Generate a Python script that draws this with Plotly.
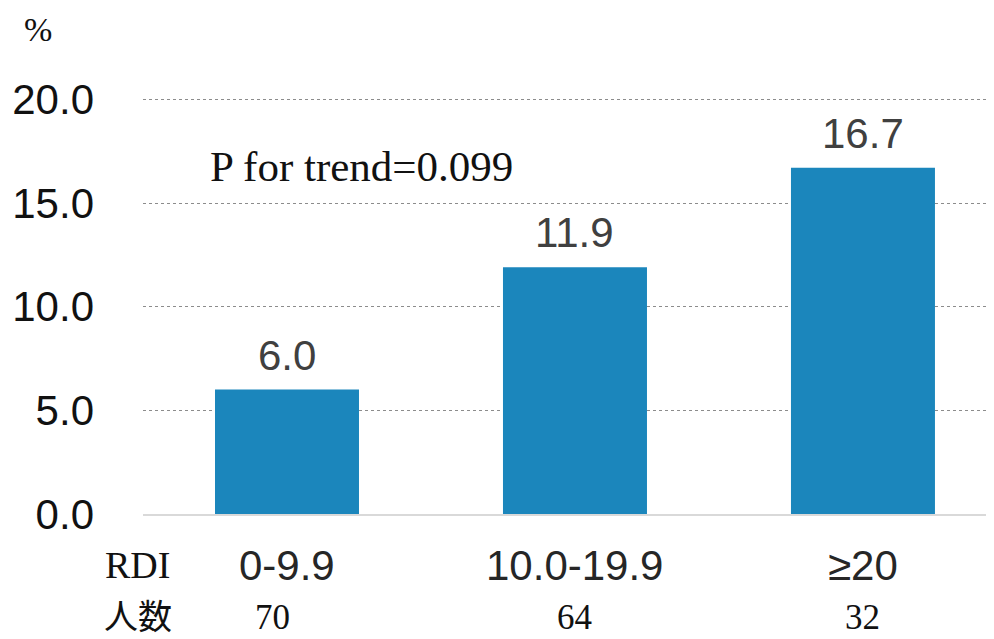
import plotly.graph_objects as go

categories = ["0-9.9", "10.0-19.9", "≥20"]
values = [6.0, 11.9, 16.7]
counts = ["70", "64", "32"]
y_ticks = [0, 5, 10, 15, 20]
y_tick_labels = ["0.0", "5.0", "10.0", "15.0", "20.0"]

x_pos = list(range(len(categories)))
serif = "Liberation Serif, Times New Roman, Noto Sans CJK JP, serif"
sans = "Liberation Sans, Arial, sans-serif"

# page body has an 8px margin; size figure so it fills the window
W, H = 986, 631
L, R, T, B = 135, 0, 81, 125
OFF = 8


def px_to_paper(px, py):
    fx, fy = px - OFF, py - OFF
    return (fx - L) / (W - L - R), (H - B - fy) / (H - T - B)


fig = go.Figure()
fig.add_trace(go.Bar(
    x=x_pos, y=values, width=0.5,
    marker=dict(color="#1b86bc", line=dict(width=0)),
    hoverinfo="skip",
))

fig.update_layout(
    width=W, height=H,
    margin=dict(l=L, r=R, t=T, b=B),
    paper_bgcolor="white", plot_bgcolor="white",
    showlegend=False,
    xaxis=dict(range=[-0.5, 2.455], showticklabels=False, showgrid=False,
               zeroline=False, showline=True, linecolor="#d9d9d9", linewidth=2),
    yaxis=dict(range=[0, 20.5], tickvals=y_ticks, ticktext=y_tick_labels,
               tickfont=dict(family=sans, size=42, color="#111111"),
               showgrid=True, gridcolor="#8c8c8c", griddash="dot", gridwidth=1.3,
               zeroline=False, showline=False, ticklabelstandoff=48),
)

# data labels
for i, v in zip(x_pos, values):
    fig.add_annotation(x=i, y=v, xref="x", yref="y", text=f"{v:.1f}", showarrow=False,
                       xanchor="center", yanchor="bottom", yshift=9,
                       font=dict(family=sans, size=42, color="#404040"))

# category labels and counts
for i, (c, n) in enumerate(zip(categories, counts)):
    fig.add_annotation(x=i, y=0, xref="x", yref="paper", text=c, showarrow=False,
                       xanchor="center", yanchor="middle", yshift=-51,
                       font=dict(family=sans, size=42, color="#262626"))
    fig.add_annotation(x=i - (0.05 if i == 0 else 0), y=0, xref="x", yref="paper", text=n,
                       showarrow=False, xanchor="center", yanchor="middle", yshift=-103,
                       font=dict(family=serif, size=35, color="#111111"))

for txt, (px, py), size in [("RDI", (137, 565), 38), ("人数", (138, 617), 34),
                             ("%", (38, 30), 34), ("P for trend=0.099", (361, 167), 43)]:
    xx, yy = px_to_paper(px, py)
    fig.add_annotation(x=xx, y=yy, xref="paper", yref="paper", text=txt, showarrow=False,
                       xanchor="center", yanchor="middle",
                       font=dict(family=serif, size=size, color="#111111"))

fig.write_html("out.html")
